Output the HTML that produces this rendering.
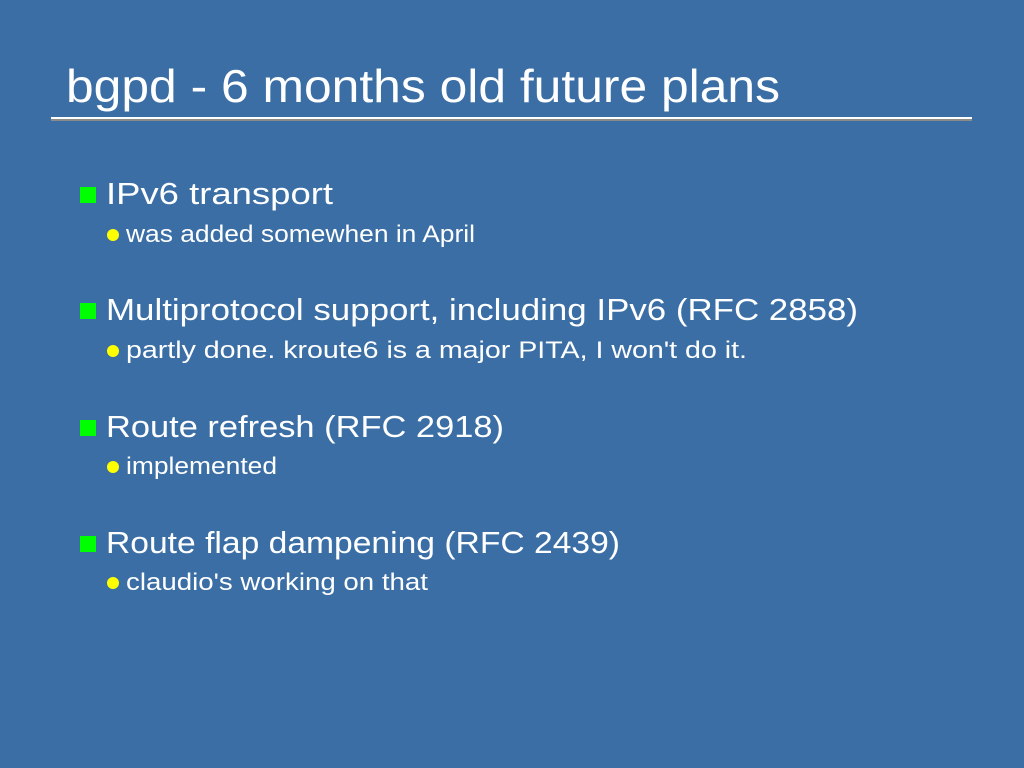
<!DOCTYPE html>
<html><head><meta charset="utf-8"><style>
html,body{margin:0;padding:0;background:#3a6ea5;}
svg{display:block;font-family:"Liberation Sans",sans-serif;}
</style></head><body>
<svg width="1024" height="768" viewBox="0 0 1024 768">
<rect width="1024" height="768" fill="#3a6ea5"/>
<text x="66" y="102" font-size="46" fill="#fff" textLength="714" lengthAdjust="spacingAndGlyphs">bgpd - 6 months old future plans</text>
<rect x="51" y="117" width="921" height="2" fill="#fff"/>
<rect x="51" y="119" width="921" height="2" fill="#8a8a8a"/>

<g>
<rect x="80" y="187" width="16" height="16" fill="#00ff00"/>
<text x="106" y="204" font-size="31" fill="#fff" textLength="227" lengthAdjust="spacingAndGlyphs">IPv6 transport</text>
<circle cx="113" cy="235" r="6" fill="#ffff00"/>
<text x="126" y="242" font-size="24" fill="#fff" textLength="349" lengthAdjust="spacingAndGlyphs">was added somewhen in April</text>
</g>

<g>
<rect x="80" y="303" width="16" height="16" fill="#00ff00"/>
<text x="106" y="320" font-size="31" fill="#fff" textLength="752" lengthAdjust="spacingAndGlyphs">Multiprotocol support, including IPv6 (RFC 2858)</text>
<circle cx="113" cy="351" r="6" fill="#ffff00"/>
<text x="126" y="358" font-size="24" fill="#fff" textLength="621" lengthAdjust="spacingAndGlyphs">partly done. kroute6 is a major PITA, I won't do it.</text>
</g>

<g>
<rect x="80" y="420" width="16" height="16" fill="#00ff00"/>
<text x="106" y="437" font-size="31" fill="#fff" textLength="398" lengthAdjust="spacingAndGlyphs">Route refresh (RFC 2918)</text>
<circle cx="113" cy="467" r="6" fill="#ffff00"/>
<text x="126" y="474" font-size="24" fill="#fff" textLength="151" lengthAdjust="spacingAndGlyphs">implemented</text>
</g>

<g>
<rect x="80" y="536" width="16" height="16" fill="#00ff00"/>
<text x="106" y="553" font-size="31" fill="#fff" textLength="514" lengthAdjust="spacingAndGlyphs">Route flap dampening (RFC 2439)</text>
<circle cx="113" cy="583" r="6" fill="#ffff00"/>
<text x="126" y="590" font-size="24" fill="#fff" textLength="302" lengthAdjust="spacingAndGlyphs">claudio's working on that</text>
</g>
</svg>
</body></html>
